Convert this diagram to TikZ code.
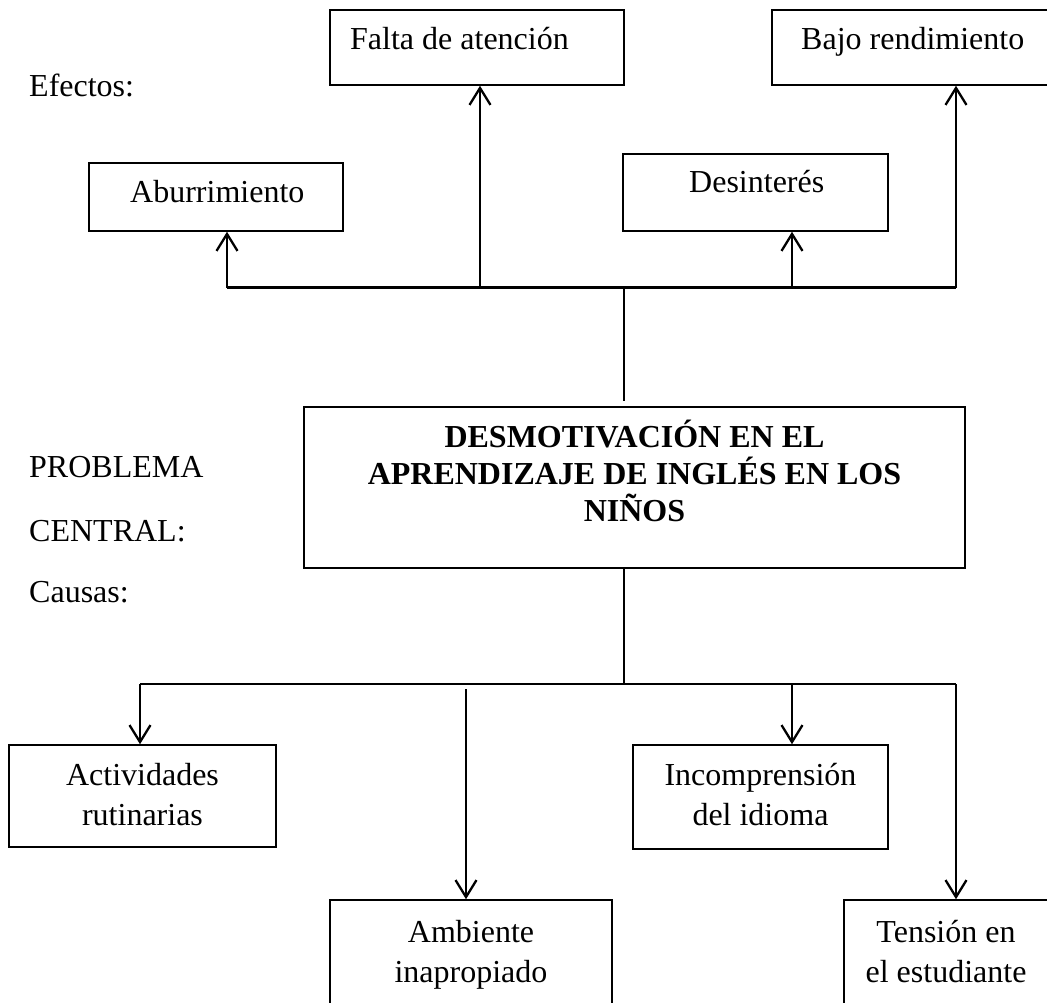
\documentclass[tikz,border=0pt]{standalone}
\usepackage{fontspec}
\setmainfont{Liberation Serif}
\usetikzlibrary{arrows.meta}
\begin{document}
\begin{tikzpicture}[x=1pt,y=-1pt,
  box/.style={draw, line width=1.5pt, inner sep=0pt},
  txt/.style={font=\fontsize{32}{40}\selectfont, inner sep=0pt},
  btxt/.style={font=\fontsize{32}{37}\selectfont\bfseries, inner sep=0pt},
  arr/.style={line width=2.3pt, -{Straight Barb[length=17pt,width=21pt,line width=2.3pt]}},
  bar/.style={line width=2.3pt},
  stem/.style={line width=1.5pt}]
\useasboundingbox (0,0) rectangle (1047,1003);
\clip (0,0) rectangle (1047,1003);

% effect boxes
\node[box, minimum width=294pt, minimum height=75pt] (falta) at (477,47.5) {};
\node[box, minimum width=288pt, minimum height=75pt] (bajo) at (916,47.5) {};
\node[box, minimum width=254pt, minimum height=68pt] (abur) at (216,197) {};
\node[box, minimum width=265pt, minimum height=77pt] (desi) at (755.5,192.5) {};
% central box
\node[box, minimum width=661pt, minimum height=161pt] (central) at (634.5,487.5) {};
% cause boxes
\node[box, minimum width=267pt, minimum height=102pt] (acti) at (142.5,796) {};
\node[box, minimum width=255pt, minimum height=104pt] (inco) at (760.5,797) {};
\node[box, minimum width=282pt, minimum height=110pt] (ambi) at (471,955) {};
\node[box, minimum width=216pt, minimum height=110pt] (tens) at (952,955) {};

% texts
\node[txt, anchor=base west] (efectos) at (29,97) {Efectos:};
\node[txt, anchor=base west] (faltat) at (350,50) {Falta de atención};
\node[txt, anchor=base west] (bajot) at (801,50) {Bajo rendimiento};
\node[txt, anchor=base west] (abut) at (130,203) {Aburrimiento};
\node[txt, anchor=base west] (desit) at (689,193) {Desinterés};
\node[txt, anchor=base west] (probl) at (29,477) {PROBLEMA};
\node[txt, anchor=base west] (centr) at (29,541) {CENTRAL:};
\node[txt, anchor=base west] (causas) at (29,602) {Causas:};
% multi-line nodes: base anchor is the baseline of the last line
\node[btxt, anchor=base, align=center] (centt) at (634.5,521) {DESMOTIVACIÓN EN EL\\APRENDIZAJE DE INGLÉS EN LOS\\NIÑOS};
\node[txt, anchor=base, align=center] (actit) at (142.5,825) {Actividades\\rutinarias};
\node[txt, anchor=base, align=center] (incot) at (760.5,825) {Incomprensión\\del idioma};
\node[txt, anchor=base, align=center] (ambit) at (471,982) {Ambiente\\inapropiado};
\node[txt, anchor=base, align=center] (tenst) at (946,982) {Tensión en\\el estudiante};

% top connectors
\coordinate (ta) at (227,287.5);
\coordinate (tb) at (480,287.5);
\coordinate (tc) at (792,287.5);
\coordinate (td) at (956,287.5);
\coordinate (s1) at (624,288);
\coordinate (s2) at (624,401);
\draw[bar] (ta) -- (td);
\draw[arr] (ta) -- (ta |- abur.south);
\draw[arr] (tb) -- (tb |- falta.south);
\draw[arr] (tc) -- (tc |- desi.south);
\draw[arr] (td) -- (td |- bajo.south);
\draw[stem] (s1) -- (s2);

% bottom connectors
\coordinate (b0) at (624,684);
\coordinate (ba) at (140,684);
\coordinate (bb) at (466,689);
\coordinate (bc) at (792,684);
\coordinate (bd) at (956,684);
\draw[stem] (central.south -| b0) -- (b0);
\draw[bar] (ba) -- (bd);
\draw[arr] (ba) -- (ba |- acti.north);
\draw[arr] (bb) -- (bb |- ambi.north);
\draw[arr] (bc) -- (bc |- inco.north);
\draw[arr] (bd) -- (bd |- tens.north);
\end{tikzpicture}
\end{document}
